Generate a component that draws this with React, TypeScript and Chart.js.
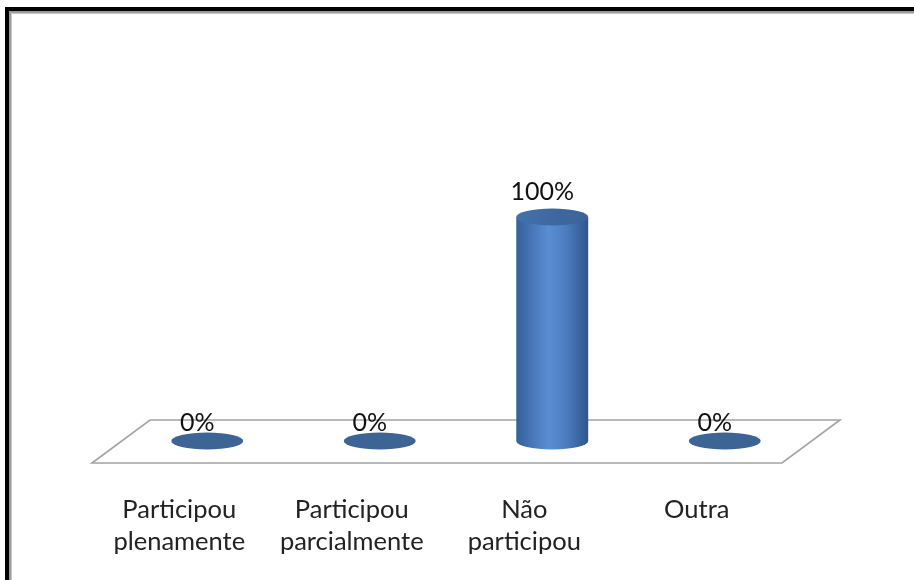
import React, { useEffect, useRef } from "react";
import { Chart, registerables } from "chart.js";

Chart.register(...registerables);

const categories: string[][] = [
  ["Participou", "plenamente"],
  ["Participou", "parcialmente"],
  ["Não", "participou"],
  ["Outra"],
];
const values: number[] = [0, 0, 100, 0];
const valueLabels: string[] = ["0%", "0%", "100%", "0%"];

const FONT = "Lato, 'Open Sans', sans-serif";

export default function App() {
  const ref = useRef<HTMLCanvasElement>(null);

  useEffect(() => {
    const canvas = ref.current;
    if (!canvas) return;
    const ctx = canvas.getContext("2d");
    if (!ctx) return;

    const plugin = {
      id: "cyl3d",
      beforeDraw(chart: any) {
        const c = chart.ctx as CanvasRenderingContext2D;
        const W = chart.width;
        const H = chart.height;
        c.save();
        c.fillStyle = "#ffffff";
        c.fillRect(0, 0, W, H);
        // outer frame
        c.fillStyle = "#000000";
        c.fillRect(5, 7, W - 5, 4);
        c.fillRect(5, 7, 4, H - 7);
        c.fillStyle = "#9c9c9c";
        c.fillRect(9, 11, W - 9, 2);
        c.fillRect(9, 11, 2, H - 11);
        c.fillStyle = "#c8c8c8";
        c.fillRect(11, 13, W - 11, 1);
        c.fillRect(11, 13, 1, H - 13);
        // floor
        const a = chart.chartArea;
        const d = 29;
        c.beginPath();
        c.moveTo(a.left + d, a.bottom - 21);
        c.lineTo(a.right + d, a.bottom - 21);
        c.lineTo(a.right - d, a.bottom + 22);
        c.lineTo(a.left - d, a.bottom + 22);
        c.closePath();
        c.fillStyle = "#ffffff";
        c.fill();
        c.strokeStyle = "#a3a3a3";
        c.lineWidth = 1.6;
        c.stroke();
        c.restore();
      },
      afterDatasetsDraw(chart: any) {
        const c = chart.ctx as CanvasRenderingContext2D;
        const a = chart.chartArea;
        const meta = chart.getDatasetMeta(0);
        const xScale = chart.scales.x;
        c.save();
        meta.data.forEach((el: any, i: number) => {
          const { x, y, base, width } = el.getProps(["x", "y", "base", "width"], true);
          const rx = width / 2;
          const ry = 8.5;
          if (base - y > 1) {
            const g = c.createLinearGradient(x - rx, 0, x + rx, 0);
            g.addColorStop(0, "#34609a");
            g.addColorStop(0.2, "#4675b5");
            g.addColorStop(0.45, "#5a8ed4");
            g.addColorStop(0.7, "#4b7cbe");
            g.addColorStop(1, "#2d568a");
            c.beginPath();
            c.moveTo(x - rx, y);
            c.lineTo(x - rx, base);
            c.ellipse(x, base, rx, ry, 0, Math.PI, 0, true);
            c.lineTo(x + rx, y);
            c.closePath();
            c.fillStyle = g;
            c.fill();
            const tg = c.createLinearGradient(x - rx, y - ry, x + rx, y + ry);
            tg.addColorStop(0, "#4672ac");
            tg.addColorStop(0.5, "#3d68a0");
            tg.addColorStop(1, "#3a6398");
            c.beginPath();
            c.ellipse(x, y, rx, ry, 0, 0, Math.PI * 2);
            c.fillStyle = tg;
            c.fill();
          } else {
            c.beginPath();
            c.ellipse(x, base, rx, ry, 0, 0, Math.PI * 2);
            c.fillStyle = "#3c6495";
            c.fill();
          }
          // value label
          c.font = `25px ${FONT}`;
          c.fillStyle = "#111111";
          c.textAlign = "center";
          c.textBaseline = "alphabetic";
          const off = base - y > 1 ? 17 : 10;
          c.fillText(valueLabels[i], x - 10, y - off);
        });
        // category labels
        c.font = `25.5px ${FONT}`;
        c.fillStyle = "#222222";
        c.textAlign = "center";
        c.textBaseline = "alphabetic";
        categories.forEach((lines, i) => {
          const cx = xScale.getPixelForValue(i) - 28;
          lines.forEach((t, j) => {
            c.fillText(t, cx, a.bottom + 77 + j * 32);
          });
        });
        c.restore();
      },
    };

    const chart = new Chart(ctx, {
      type: "bar",
      data: {
        labels: categories,
        datasets: [
          {
            data: values,
            backgroundColor: "rgba(0,0,0,0)",
            borderWidth: 0,
            barPercentage: 0.417,
            categoryPercentage: 1,
          },
        ],
      },
      options: {
        responsive: false,
        animation: false,
        layout: { padding: { left: 121, right: 103, top: 217, bottom: 139 } },
        plugins: { legend: { display: false }, tooltip: { enabled: false } },
        scales: {
          x: { display: false },
          y: { display: false, min: 0, max: 100 },
        },
      },
      plugins: [plugin],
    });
    return () => chart.destroy();
  }, []);

  return (
    <div style={{ position: "absolute", left: 0, top: 0, width: 914, height: 580 }}>
      <canvas ref={ref} width={914} height={580} style={{ display: "block" }} />
    </div>
  );
}
